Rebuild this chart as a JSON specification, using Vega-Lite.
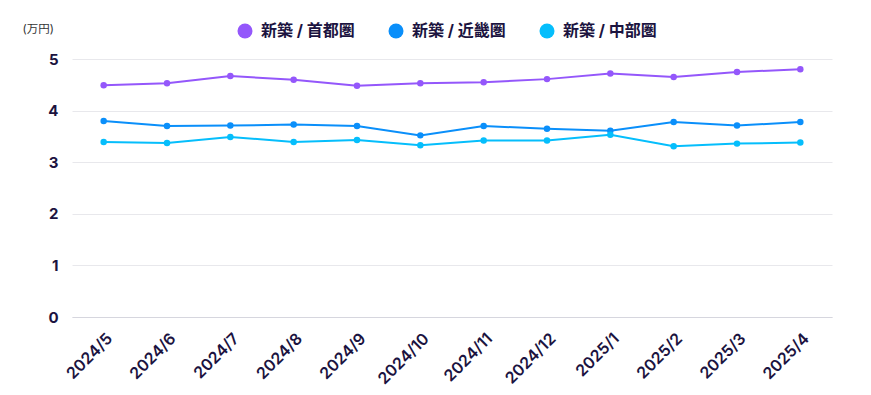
{
  "$schema": "https://vega.github.io/schema/vega-lite/v6.json",
  "width": 760,
  "height": 258,
  "autosize": "none",
  "padding": {"left": 72, "top": 59, "right": 39, "bottom": 78},
  "background": "white",
  "config": {
    "font": "Inter, Noto Sans CJK JP, sans-serif",
    "view": {"stroke": null}
  },
  "data": {
    "values": [
      {"month": "2024/5", "series": "新築 / 首都圏", "value": 4.49},
      {"month": "2024/6", "series": "新築 / 首都圏", "value": 4.53},
      {"month": "2024/7", "series": "新築 / 首都圏", "value": 4.67},
      {"month": "2024/8", "series": "新築 / 首都圏", "value": 4.60},
      {"month": "2024/9", "series": "新築 / 首都圏", "value": 4.48},
      {"month": "2024/10", "series": "新築 / 首都圏", "value": 4.53},
      {"month": "2024/11", "series": "新築 / 首都圏", "value": 4.55},
      {"month": "2024/12", "series": "新築 / 首都圏", "value": 4.61},
      {"month": "2025/1", "series": "新築 / 首都圏", "value": 4.72},
      {"month": "2025/2", "series": "新築 / 首都圏", "value": 4.65},
      {"month": "2025/3", "series": "新築 / 首都圏", "value": 4.75},
      {"month": "2025/4", "series": "新築 / 首都圏", "value": 4.80},
      {"month": "2024/5", "series": "新築 / 近畿圏", "value": 3.80},
      {"month": "2024/6", "series": "新築 / 近畿圏", "value": 3.70},
      {"month": "2024/7", "series": "新築 / 近畿圏", "value": 3.71},
      {"month": "2024/8", "series": "新築 / 近畿圏", "value": 3.73},
      {"month": "2024/9", "series": "新築 / 近畿圏", "value": 3.70},
      {"month": "2024/10", "series": "新築 / 近畿圏", "value": 3.52},
      {"month": "2024/11", "series": "新築 / 近畿圏", "value": 3.70},
      {"month": "2024/12", "series": "新築 / 近畿圏", "value": 3.65},
      {"month": "2025/1", "series": "新築 / 近畿圏", "value": 3.61},
      {"month": "2025/2", "series": "新築 / 近畿圏", "value": 3.78},
      {"month": "2025/3", "series": "新築 / 近畿圏", "value": 3.71},
      {"month": "2025/4", "series": "新築 / 近畿圏", "value": 3.78},
      {"month": "2024/5", "series": "新築 / 中部圏", "value": 3.39},
      {"month": "2024/6", "series": "新築 / 中部圏", "value": 3.37},
      {"month": "2024/7", "series": "新築 / 中部圏", "value": 3.49},
      {"month": "2024/8", "series": "新築 / 中部圏", "value": 3.39},
      {"month": "2024/9", "series": "新築 / 中部圏", "value": 3.43},
      {"month": "2024/10", "series": "新築 / 中部圏", "value": 3.33},
      {"month": "2024/11", "series": "新築 / 中部圏", "value": 3.42},
      {"month": "2024/12", "series": "新築 / 中部圏", "value": 3.42},
      {"month": "2025/1", "series": "新築 / 中部圏", "value": 3.53},
      {"month": "2025/2", "series": "新築 / 中部圏", "value": 3.31},
      {"month": "2025/3", "series": "新築 / 中部圏", "value": 3.36},
      {"month": "2025/4", "series": "新築 / 中部圏", "value": 3.38}
    ]
  },
  "encoding": {
    "x": {
      "field": "month",
      "type": "ordinal",
      "sort": null,
      "scale": {"type": "point", "padding": 0.5},
      "axis": {
        "title": null,
        "labelAngle": -45,
        "labelFontSize": 16,
        "labelFontWeight": 600,
        "labelColor": "#1b1340",
        "labelPadding": 13,
        "ticks": false,
        "grid": false,
        "domain": true,
        "domainColor": "#d6d6de",
        "domainWidth": 1
      }
    },
    "y": {
      "field": "value",
      "type": "quantitative",
      "scale": {"domain": [0, 5], "nice": false},
      "axis": {
        "values": [0, 1, 2, 3, 4, 5],
        "title": "(万円)",
        "titleAngle": 0,
        "titleX": -50,
        "titleY": -30,
        "titleAlign": "left",
        "titleBaseline": "middle",
        "titleFontSize": 11.5,
        "titleFontWeight": "normal",
        "titleColor": "#333333",
        "labelFontSize": 15,
        "labelFontWeight": "bold",
        "labelColor": "#1b1340",
        "labelPadding": 14,
        "ticks": false,
        "domain": false,
        "grid": true,
        "gridColor": "#e8e8ec",
        "gridWidth": 1
      }
    },
    "color": {
      "field": "series",
      "type": "nominal",
      "sort": null,
      "scale": {
        "domain": ["新築 / 首都圏", "新築 / 近畿圏", "新築 / 中部圏"],
        "range": ["#9457fb", "#0a8ffa", "#05befc"]
      },
      "legend": {
        "title": null,
        "orient": "none",
        "direction": "horizontal",
        "legendX": 165,
        "legendY": -36,
        "padding": 0,
        "symbolType": "circle",
        "symbolSize": 225,
        "symbolStrokeWidth": 0,
        "symbolOpacity": 1,
        "labelFontSize": 16,
        "labelFontWeight": "bold",
        "labelColor": "#1b1340",
        "labelOffset": 8,
        "columnPadding": 33
      }
    }
  },
  "layer": [
    {"mark": {"type": "line", "strokeWidth": 2}},
    {"mark": {"type": "point", "filled": true, "size": 42, "opacity": 1}}
  ]
}
